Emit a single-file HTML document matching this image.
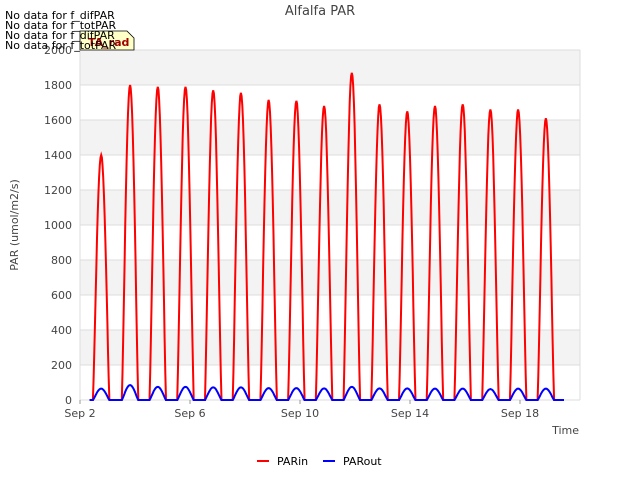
<!DOCTYPE html>
<html><head><meta charset="utf-8"><style>
body{margin:0;background:#fff;font-family:"Liberation Sans","DejaVu Sans",sans-serif;}
svg text{font-family:"DejaVu Sans","Liberation Sans",sans-serif;}
</style></head><body>
<svg id="c" width="640" height="480" xmlns="http://www.w3.org/2000/svg">
<rect width="640" height="480" fill="#fff"/>
<g id="bands"></g>
<g id="grid"></g>
<g id="yt"></g>
<g id="xt"></g>
<g id="series"></g>
<text x="320" y="15" text-anchor="middle" font-size="13" fill="#444">Alfalfa PAR</text>
<text transform="translate(18,225) rotate(-90)" text-anchor="middle" font-size="11" fill="#444">PAR (umol/m2/s)</text>
<text x="579" y="434" text-anchor="end" font-size="11" fill="#444">Time</text>
<g font-size="11" fill="#000">
<text x="5" y="19">No data for f_difPAR</text>
<text x="5" y="29">No data for f_totPAR</text>
</g>
<g>
<path d="M80,31 H127 L134,38 V50 H80 Z" fill="#ffffc8" stroke="#000" stroke-width="0.8"/>
<text x="88" y="46" font-size="11" font-weight="bold" fill="#a00000">TA_rad</text>
</g>
<g font-size="11" fill="#000">
<text x="5" y="39">No data for f_difPAR</text>
<text x="5" y="49">No data for f_totPAR</text>
</g>
<g>
<line x1="257" y1="461" x2="269" y2="461" stroke="#f00" stroke-width="2"/>
<text x="277" y="465" font-size="11" fill="#000">PARin</text>
<line x1="323" y1="461" x2="335" y2="461" stroke="#00f" stroke-width="2"/>
<text x="343" y="465" font-size="11" fill="#000">PARout</text>
</g>
</svg>
<script>
const yTicks=[0,200,400,600,800,1000,1200,1400,1600,1800,2000];
const xTickDays=[0,4,8,12,16];
const xTickLabels=["Sep 2","Sep 6","Sep 10","Sep 14","Sep 18"];
const parInPeaks=[1400,1800,1790,1790,1770,1755,1715,1710,1680,1870,1690,1650,1680,1690,1660,1660,1610];
const parOutPeaks=[65,85,75,75,72,72,68,68,66,75,66,66,65,65,62,65,65];
const NS="http://www.w3.org/2000/svg";
const X0=80,X1=580,Y0=400,Y1=50;
function xs(d){return X0+d*27.5;}
function ys(v){return Y0-(v/2000)*(Y0-Y1);}
function mk(tag,attrs,parent){const e=document.createElementNS(NS,tag);for(const k in attrs)e.setAttribute(k,attrs[k]);document.getElementById(parent).appendChild(e);return e;}
for(let i=0;i<yTicks.length-1;i++){
  if(i%2===1){const r=mk('rect',{x:X0,y:ys(yTicks[i+1]),width:X1-X0,height:ys(yTicks[i])-ys(yTicks[i+1]),fill:'#f3f3f3'},'bands');
  
  }
}
yTicks.forEach(v=>{
  const l=mk('line',{x1:X0,x2:X1,y1:ys(v),y2:ys(v),stroke:'#dcdcdc','stroke-width':1},'grid');
  
  
  const t=mk('text',{x:X0-8,y:ys(v)+4,'text-anchor':'end','font-size':11,fill:'#444'},'yt');
  t.textContent=v;
  
  
});
mk('line',{x1:X1,x2:X1,y1:Y1,y2:Y0,stroke:'#dcdcdc'},'grid');
mk('line',{x1:X0,x2:X0,y1:Y1,y2:Y0,stroke:'#dcdcdc'},'grid');
xTickDays.forEach((d,i)=>{
  mk('line',{x1:xs(d),x2:xs(d),y1:Y0,y2:Y0+4,stroke:'#999'},'xt');
  const t=mk('text',{x:xs(d),y:Y0+17,'text-anchor':'middle','font-size':11,fill:'#444'},'xt');
  t.textContent=xTickLabels[i];
  
  
});
function center(i){return i===0?0.77:1.82+(i-1)*1.008;}
function build(peaks){
  let pts=[[xs(0.35),ys(0)]];
  peaks.forEach((p,i)=>{
    const c=center(i),h=0.3;
    pts.push([xs(c-h),ys(0)]);
    for(let k=0;k<=24;k++){const t=k/24;const d=c-h+2*h*t;pts.push([xs(d),ys(p*Math.pow(Math.sin(Math.PI*t),1.2))]);}
    pts.push([xs(c+h),ys(0)]);
  });
  pts.push([xs(17.6),ys(0)]);
  return pts.map((p,i)=>(i?'L':'M')+p[0].toFixed(1)+','+p[1].toFixed(1)).join('');
}
const a=mk('path',{d:build(parInPeaks),fill:'none',stroke:'#f00','stroke-width':2},'series');


const b=mk('path',{d:build(parOutPeaks),fill:'none',stroke:'#00f','stroke-width':2},'series');


</script>
</body></html>
